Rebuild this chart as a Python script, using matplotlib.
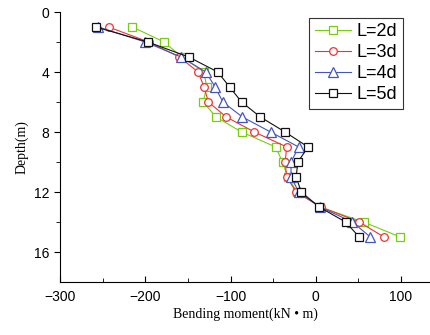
import numpy as np
import matplotlib.pyplot as plt

# depth of each measuring point (m)
depth = [1, 2, 3, 4, 5, 6, 7, 8, 9, 10, 11, 12, 13, 14, 15]

# bending moment (kN*m) for each embedment length
m_2d = [-215, -178, -157, -131, -128, -132, -117, -87, -47, -39, -33, -22, 5, 56, 99]
m_3d = [-243, -196, -160, -138, -131, -126, -105, -72, -34, -36, -34, -23, 6, 51, 80]
m_4d = [-255, -200, -158, -129, -118, -109, -86, -53, -20, -29, -29, -20, 5, 43, 64]
m_5d = [-258, -197, -149, -115, -101, -87, -65, -36, -9, -21, -23, -17, 4, 35, 51]

labels = ['L=2d', 'L=3d', 'L=4d', 'L=5d']
colors = ['#77cc11', '#ee3333', '#4455bb', '#111111']
markers = ['s', 'o', '^', 's']

fig = plt.figure(figsize=(4.3, 3.35), dpi=100)
ax = fig.add_axes([60 / 430, 1 - 282 / 335, 370 / 430, 270 / 335])

for vals, lab, c, mk in zip([m_2d, m_3d, m_4d, m_5d], labels, colors, markers):
    ax.plot(vals, depth, color=c, marker=mk, markersize=5.5 if mk != '^' else 6.5,
            markerfacecolor='white', markeredgecolor=c, markeredgewidth=0.9,
            linewidth=0.8, label=lab)

ax.set_xlim(-300, 134)
ax.set_ylim(18, 0)
ax.set_xticks([-300, -200, -100, 0, 100])
ax.set_xticks(np.arange(-250, 134, 100), minor=True)
ax.set_yticks([0, 4, 8, 12, 16])
ax.set_yticks([2, 6, 10, 14], minor=True)

ax.spines['top'].set_visible(False)
ax.spines['right'].set_visible(False)
ax.tick_params(axis='x', which='both', direction='in', labelsize=10, pad=6)
ax.tick_params(axis='y', which='both', direction='out', labelsize=10)
ax.tick_params(which='major', length=4)
ax.tick_params(which='minor', length=3)
for lbl in ax.get_xticklabels() + ax.get_yticklabels():
    lbl.set_fontfamily('Liberation Sans')

ax.set_xlabel('Bending moment(kN \u2022 m)', family='Liberation Serif', fontsize=10, labelpad=2)
ax.set_ylabel('Depth(m)', family='Liberation Serif', fontsize=10, labelpad=4)

leg = ax.legend(loc='upper right', bbox_to_anchor=(403 / 430, 1 - 18 / 335),
                bbox_transform=fig.transFigure, prop={'family': 'Liberation Sans', 'size': 13},
                fancybox=False, edgecolor='#333333', framealpha=1, handlelength=2.0,
                handletextpad=0.35, labelspacing=0.22, borderpad=0.3, borderaxespad=0)
leg.get_frame().set_linewidth(0.8)

fig.savefig('out.png', dpi=100)
